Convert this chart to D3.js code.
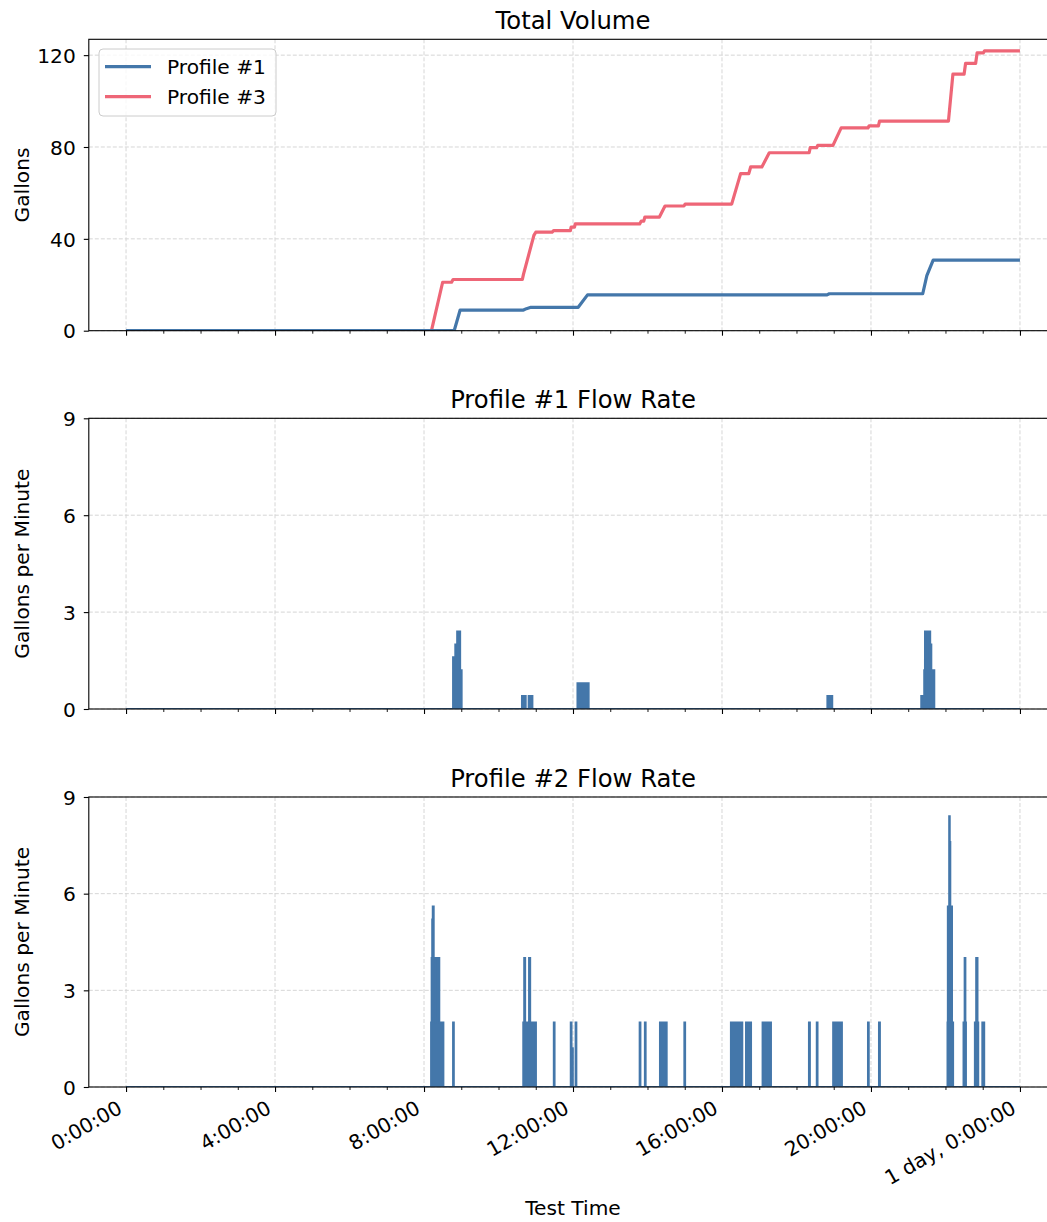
<!DOCTYPE html>
<html>
<head>
<meta charset="utf-8">
<script src="https://cdn.jsdelivr.net/npm/d3@7"></script>
<style>
  html, body { margin: 0; padding: 0; background: #fff; }
  svg { display: block; font-family: "DejaVu Sans", sans-serif; }
</style>
</head>
<body>
<svg id="chart" width="1047" height="1222"></svg>
<script>
// ---------------- DATA ----------------
const hourTicks = [0, 4, 8, 12, 16, 20, 24];
const hourTickLabels = ["0:00:00", "4:00:00", "8:00:00", "12:00:00", "16:00:00", "20:00:00", "1 day, 0:00:00"];
const hourMinorTicks = [1, 2, 3, 5, 6, 7, 9, 10, 11, 13, 14, 15, 17, 18, 19, 21, 22, 23];
const volumeTicks = [0, 40, 80, 120];
const flowTicks = [0, 3, 6, 9];

const panelTitles = ["Total Volume", "Profile #1 Flow Rate", "Profile #2 Flow Rate"];
const seriesNames = ["Profile #1", "Profile #3"];

// cumulative volume (hours, gallons)
const profile1VolumeHours = [0, 8.81, 8.97, 10.67, 10.75, 10.87, 12.14, 12.39, 18.82, 18.88, 21.39, 21.5, 21.67, 24];
const profile1VolumeGallons = [0, 0, 9.0, 9.0, 9.6, 10.2, 10.2, 15.6, 15.6, 16.1, 16.1, 24.0, 30.7, 30.7];

const profile3VolumeHours = [0, 8.2, 8.5, 8.74, 8.78, 10.64, 10.67, 10.95, 11.0, 11.44, 11.48, 11.93, 11.95, 12.04, 12.06,
  13.79, 13.83, 13.9, 13.93, 14.32, 14.47, 14.98, 15.01, 16.26, 16.5, 16.72, 16.77, 17.07, 17.27, 18.34, 18.37,
  18.54, 18.57, 18.98, 19.2, 19.92, 19.95, 20.2, 20.23, 22.08, 22.2, 22.5, 22.54, 22.81, 22.85, 23.02, 23.05, 24];
const profile3VolumeGallons = [0, 0, 21.1, 21.1, 22.3, 22.3, 24.5, 41.5, 42.9, 42.9, 43.6, 43.6, 45.1, 45.1, 46.5,
  46.5, 47.7, 47.7, 49.5, 49.5, 54.3, 54.3, 55.1, 55.1, 68.4, 68.4, 71.3, 71.3, 77.5, 77.5, 79.7,
  79.7, 80.7, 80.7, 88.3, 88.3, 89.2, 89.2, 91.3, 91.3, 111.7, 111.7, 116.4, 116.4, 121.0, 121.0, 121.9, 121.9];

// flow rate step series (value holds from each hour until the next)
const profile1FlowHours = [0, 8.78, 8.84, 8.89, 8.97, 9.01, 10.63, 10.73, 10.81, 10.91, 12.12, 12.42, 18.83, 18.96,
  21.35, 21.43, 21.45, 21.52, 21.53, 21.59, 21.62, 21.70, 24];
const profile1FlowGpm = [0, 1.6, 2.0, 2.4, 1.2, 0, 0.4, 0, 0.4, 0, 0.8, 0, 0.4, 0,
  0.4, 1.2, 2.4, 1.6, 2.4, 2.0, 1.2, 0, 0];

const profile2FlowHours = [0,
  8.19, 8.205, 8.22, 8.235, 8.26, 8.30, 8.31, 8.41, 8.52,
  8.78, 8.80,
  10.665, 10.69, 10.715, 10.82, 10.85, 11.005,
  11.485, 11.505,
  11.94, 11.96, 11.985, 11.995, 12.07, 12.09,
  13.79, 13.81, 13.93, 13.95,
  14.335, 14.515,
  14.99, 15.01,
  16.24, 16.545,
  16.645, 16.78,
  17.09, 17.315,
  18.335, 18.36,
  18.545, 18.565,
  18.985, 19.22,
  19.92, 19.94,
  20.215, 20.24,
  22.055, 22.064, 22.10, 22.115, 22.13, 22.175, 22.205,
  22.485, 22.515, 22.535, 22.55,
  22.79, 22.825, 22.86, 22.88,
  22.99, 23.04,
  24];
const profile2FlowGpm = [0,
  2.0, 4.0, 5.2, 5.6, 4.0, 2.0, 4.0, 2.0, 0,
  2.0, 0,
  2.0, 4.0, 2.0, 4.0, 2.0, 0,
  2.0, 0,
  2.0, 0, 1.2, 0, 2.0, 0,
  2.0, 0, 2.0, 0,
  2.0, 0,
  2.0, 0,
  2.0, 0,
  2.0, 0,
  2.0, 0,
  2.0, 0,
  2.0, 0,
  2.0, 0,
  2.0, 0,
  2.0, 0,
  2.0, 5.6, 8.4, 7.6, 5.6, 2.0, 0,
  2.0, 4.0, 2.0, 0,
  2.0, 4.0, 2.0, 0,
  2.0, 0,
  0];

// ---------------- STYLE / LAYOUT ----------------
const BLUE = "#4477AA", PINK = "#EE6677";
const FS = 20.2, TFS = 24.3;
const svg = d3.select("#chart");
svg.append("rect").attr("width", 1047).attr("height", 1222).attr("fill", "#fff");

const x = d3.scaleLinear().domain([-1, 25]).range([88.8, 1057.2]);

const panels = [
  { top: 39.3, bottom: 330.7, dom: [0, 126.9], ticks: volumeTicks, ylabel: "Gallons" },
  { top: 418.3, bottom: 709, dom: [0, 9], ticks: flowTicks, ylabel: "Gallons per Minute" },
  { top: 797, bottom: 1087, dom: [0, 9], ticks: flowTicks, ylabel: "Gallons per Minute" }
];

panels.forEach((p, i) => {
  p.y = d3.scaleLinear().domain(p.dom).range([p.bottom, p.top]);
  const g = svg.append("g");
  p.g = g;
  svg.append("clipPath").attr("id", "clip" + i)
    .append("rect").attr("x", x.range()[0]).attr("y", p.top)
    .attr("width", x.range()[1] - x.range()[0]).attr("height", p.bottom - p.top);

  // grid
  const grid = g.append("g").attr("stroke", "#d6d6d6").attr("stroke-width", 1).attr("stroke-dasharray", "4,2");
  hourTicks.forEach(h => grid.append("line").attr("x1", x(h)).attr("x2", x(h)).attr("y1", p.top).attr("y2", p.bottom));
  p.ticks.forEach(t => grid.append("line").attr("x1", x.range()[0]).attr("x2", x.range()[1]).attr("y1", p.y(t)).attr("y2", p.y(t)));

  p.data = g.append("g").attr("clip-path", `url(#clip${i})`);

  // title
  svg.append("text").attr("x", (x.range()[0] + x.range()[1]) / 2).attr("y", p.top - 10.5)
    .attr("text-anchor", "middle").attr("font-size", TFS).attr("fill", "#000").text(panelTitles[i]);

  // y label
  const cy = (p.top + p.bottom) / 2;
  svg.append("text").attr("transform", `translate(28.5,${cy}) rotate(-90)`)
    .attr("text-anchor", "middle").attr("font-size", FS).attr("fill", "#000").text(p.ylabel);
});

// ---------------- MARKS ----------------
function volumeLine(p, hours, vals, color) {
  const pts = hours.map((h, k) => [h, vals[k]]);
  p.data.append("path").datum(pts)
    .attr("fill", "none").attr("stroke", color).attr("stroke-width", 3.2)
    .attr("stroke-linejoin", "round")
    .attr("d", d3.line().x(d => x(d[0])).y(d => p.y(d[1])));
}
volumeLine(panels[0], profile3VolumeHours, profile3VolumeGallons, PINK);
volumeLine(panels[0], profile1VolumeHours, profile1VolumeGallons, BLUE);

function flowSeries(p, hours, vals) {
  const pts = hours.map((h, k) => [h, vals[k]]);
  p.data.append("path").datum(pts)
    .attr("fill", BLUE).attr("stroke", "none")
    .attr("d", d3.area().curve(d3.curveStepAfter).x(d => x(d[0])).y0(p.y(0)).y1(d => p.y(d[1])));
  p.data.append("path").datum(pts)
    .attr("fill", "none").attr("stroke", BLUE).attr("stroke-width", 2)
    .attr("d", d3.line().curve(d3.curveStepAfter).x(d => x(d[0])).y(d => p.y(d[1])));
}
flowSeries(panels[1], profile1FlowHours, profile1FlowGpm);
flowSeries(panels[2], profile2FlowHours, profile2FlowGpm);

// ---------------- AXES ----------------
panels.forEach((p, i) => {
  const g = p.g;
  g.append("rect").attr("x", x.range()[0]).attr("y", p.top)
    .attr("width", x.range()[1] - x.range()[0]).attr("height", p.bottom - p.top)
    .attr("fill", "none").attr("stroke", "#000").attr("stroke-width", 1.1);

  const ya = g.append("g").attr("transform", `translate(${x.range()[0]},0)`)
    .call(d3.axisLeft(p.y).tickValues(p.ticks).tickSize(5).tickPadding(8).tickFormat(d3.format("d")));
  ya.select(".domain").remove();
  ya.selectAll("line").attr("stroke", "#000").attr("stroke-width", 1.1);
  ya.selectAll("text").attr("font-size", FS).attr("fill", "#000").attr("font-family", "DejaVu Sans").attr("dy", "0.36em");

  const xa = g.append("g").attr("transform", `translate(0,${p.bottom})`)
    .call(d3.axisBottom(x).tickValues(hourTicks).tickSize(5).tickFormat((d, k) => hourTickLabels[k]));
  xa.select(".domain").remove();
  xa.selectAll("line").attr("stroke", "#000").attr("stroke-width", 1.1);
  if (i < 2) {
    xa.selectAll("text").remove();
  } else {
    xa.selectAll("text")
      .attr("font-size", FS).attr("fill", "#000").attr("font-family", "DejaVu Sans")
      .attr("x", 0).attr("y", 0).attr("dy", 0)
      .attr("text-anchor", "end")
      .attr("transform", "translate(-3,25) rotate(-30)");
  }
  const xm = g.append("g").attr("transform", `translate(0,${p.bottom})`)
    .call(d3.axisBottom(x).tickValues(hourMinorTicks).tickSize(3).tickFormat(""));
  xm.select(".domain").remove();
  xm.selectAll("line").attr("stroke", "#000").attr("stroke-width", 0.9);
});

svg.append("text").attr("x", (x.range()[0] + x.range()[1]) / 2).attr("y", 1215)
  .attr("text-anchor", "middle").attr("font-size", FS).attr("fill", "#000").text("Test Time");

// ---------------- LEGEND ----------------
const lg = svg.append("g");
lg.append("rect").attr("x", 99).attr("y", 49).attr("width", 177).attr("height", 67).attr("rx", 4)
  .attr("fill", "#fff").attr("fill-opacity", 0.8).attr("stroke", "#cccccc").attr("stroke-width", 1);
[BLUE, PINK].forEach((c, k) => {
  const yy = 66.7 + k * 30;
  lg.append("line").attr("x1", 105).attr("x2", 151).attr("y1", yy).attr("y2", yy)
    .attr("stroke", c).attr("stroke-width", 3.2);
  lg.append("text").attr("x", 167).attr("y", yy).attr("dy", "0.36em")
    .attr("font-size", FS).attr("fill", "#000").text(seriesNames[k]);
});
</script>
</body>
</html>
